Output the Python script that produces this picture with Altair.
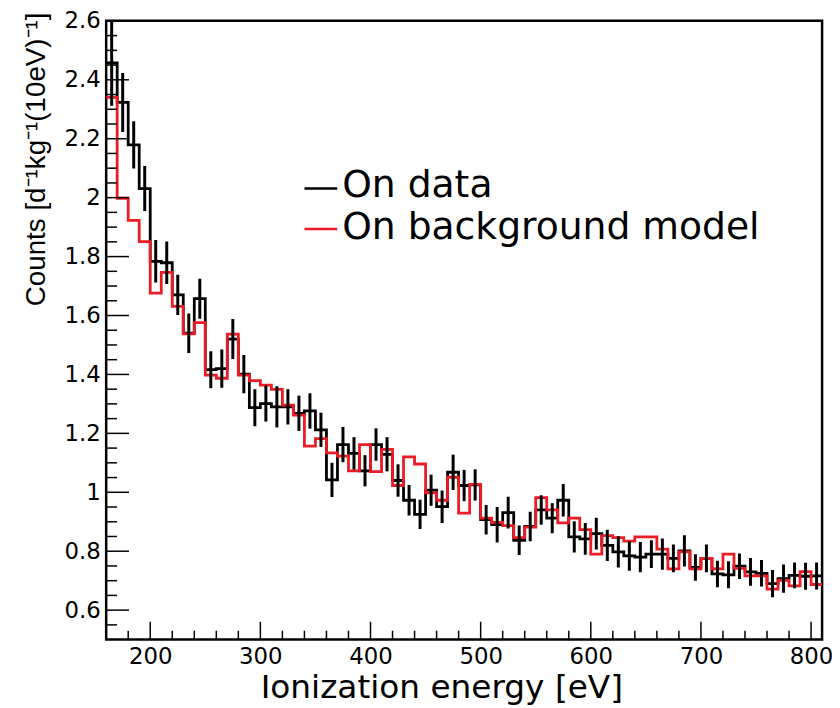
import altair as alt
import pandas as pd

# ---- data (10 eV bins, low edge) ----
energy_lo = [160, 170, 180, 190, 200, 210, 220, 230, 240, 250,
             260, 270, 280, 290, 300, 310, 320, 330, 340, 350,
             360, 370, 380, 390, 400, 410, 420, 430, 440, 450,
             460, 470, 480, 490, 500, 510, 520, 530, 540, 550,
             560, 570, 580, 590, 600, 610, 620, 630, 640, 650,
             660, 670, 680, 690, 700, 710, 720, 730, 740, 750,
             760, 770, 780, 790, 800]
energy_hi_last = 810

data_counts = [2.457, 2.323, 2.179, 2.031, 1.784, 1.779, 1.670, 1.540, 1.657, 1.416,
               1.420, 1.520, 1.401, 1.287, 1.301, 1.290, 1.290, 1.268, 1.276, 1.212,
               1.042, 1.162, 1.132, 1.073, 1.162, 1.129, 1.040, 0.973, 0.925, 1.007,
               0.951, 1.068, 1.023, 1.025, 0.907, 0.890, 0.931, 0.837, 0.884, 0.940,
               0.912, 0.973, 0.849, 0.842, 0.860, 0.820, 0.798, 0.784, 0.780, 0.790,
               0.790, 0.776, 0.801, 0.745, 0.776, 0.723, 0.720, 0.749, 0.730, 0.725,
               0.690, 0.707, 0.718, 0.715, 0.716]

data_errors = [0.145, 0.100, 0.080, 0.076, 0.072, 0.072, 0.068, 0.067, 0.068, 0.063,
               0.065, 0.068, 0.065, 0.063, 0.061, 0.070, 0.060, 0.060, 0.060, 0.058,
               0.058, 0.060, 0.055, 0.053, 0.055, 0.058, 0.055, 0.052, 0.050, 0.053,
               0.055, 0.060, 0.053, 0.053, 0.050, 0.060, 0.054, 0.050, 0.050, 0.050,
               0.051, 0.055, 0.053, 0.054, 0.054, 0.053, 0.053, 0.050, 0.051, 0.047,
               0.053, 0.047, 0.053, 0.045, 0.047, 0.045, 0.046, 0.043, 0.047, 0.045,
               0.046, 0.048, 0.044, 0.046, 0.046]

model_counts = [2.340, 1.998, 1.923, 1.851, 1.676, 1.746, 1.631, 1.538, 1.576, 1.398,
                1.387, 1.537, 1.398, 1.379, 1.364, 1.349, 1.296, 1.262, 1.157, 1.182,
                1.134, 1.123, 1.073, 1.162, 1.070, 1.146, 1.023, 1.120, 1.096, 0.998,
                0.973, 1.051, 0.929, 1.027, 0.912, 0.898, 0.887, 0.846, 0.882, 0.982,
                0.940, 0.896, 0.912, 0.873, 0.790, 0.853, 0.846, 0.834, 0.849, 0.849,
                0.807, 0.740, 0.798, 0.740, 0.776, 0.740, 0.790, 0.742, 0.716, 0.716,
                0.671, 0.701, 0.682, 0.731, 0.687]

x_major_ticks = [200, 300, 400, 500, 600, 700, 800]
x_minor_ticks = [180, 220, 240, 260, 280, 320, 340, 360, 380, 420, 440, 460, 480,
                 520, 540, 560, 580, 620, 640, 660, 680, 720, 740, 760, 780]
y_major_ticks = [0.6, 0.8, 1.0, 1.2, 1.4, 1.6, 1.8, 2.0, 2.2, 2.4, 2.6]
y_minor_ticks = [0.55, 0.65, 0.7, 0.75, 0.85, 0.9, 0.95, 1.05, 1.1, 1.15, 1.25, 1.3,
                 1.35, 1.45, 1.5, 1.55, 1.65, 1.7, 1.75, 1.85, 1.9, 1.95, 2.05, 2.1,
                 2.15, 2.25, 2.3, 2.35, 2.45, 2.5, 2.55]

legend_labels = ["On data", "On background model"]
RED = "#ec1c24"

# ---- tables built from the arrays ----
hist = pd.DataFrame({"e": energy_lo + [energy_hi_last],
                     "data": data_counts + [data_counts[-1]],
                     "model": model_counts + [model_counts[-1]]})
errs = pd.DataFrame({"c": [e + 5 for e in energy_lo],
                     "lo": [d - s for d, s in zip(data_counts, data_errors)],
                     "hi": [d + s for d, s in zip(data_counts, data_errors)]})

W, H = 722, 624
xs = alt.Scale(domain=[160, 810], nice=False, zero=False)
ys = alt.Scale(domain=[0.5, 2.6], nice=False, zero=False)
FONT = "DejaVu Sans"

x_axis = alt.Axis(values=x_major_ticks, format="d", ticks=False, domain=False, grid=False,
                  labelFont=FONT, labelFontSize=23, labelColor="black", labelPadding=6,
                  title="Ionization energy [eV]", titleFont=FONT, titleFontSize=33,
                  titleFontWeight="normal", titleColor="black",
                  titleX=338, titleY=48, titleAlign="center", titleBaseline="middle")
y_axis = alt.Axis(values=y_major_ticks, ticks=False, domain=False, grid=False,
                  labelFont=FONT, labelFontSize=23, labelColor="black", labelPadding=6,
                  labelExpr="format(datum.value, '.1~f')",
                  title="Counts [d⁻¹kg⁻¹(10eV)⁻¹]",
                  titleFont="Liberation Sans", titleFontSize=28,
                  titleFontWeight="normal", titleColor="black",
                  titleAngle=270, titleAlign="right", titleBaseline="middle",
                  titleX=-70, titleY=-9)

X = lambda f: alt.X(f, scale=xs, axis=x_axis)
Y = lambda f: alt.Y(f, scale=ys, axis=y_axis)

data_line = alt.Chart(hist).mark_line(interpolate="step-after", color="black",
                                      strokeWidth=2.8, clip=True).encode(
    x=X("e:Q"), y=Y("data:Q"))
model_line = alt.Chart(hist).mark_line(interpolate="step-after", color=RED,
                                       strokeWidth=2.8, clip=True).encode(
    x=X("e:Q"), y=Y("model:Q"))
err_bars = alt.Chart(errs).mark_rule(color="black", strokeWidth=3, clip=True).encode(
    x=X("c:Q"), y=Y("lo:Q"), y2="hi:Q")

ymaj = alt.Chart(pd.DataFrame({"v": y_major_ticks})).mark_rule(color="black", strokeWidth=1.5).encode(
    y=Y("v:Q"), x=alt.value(0), x2=alt.value(23))
ymin = alt.Chart(pd.DataFrame({"v": y_minor_ticks})).mark_rule(color="black", strokeWidth=1.5).encode(
    y=Y("v:Q"), x=alt.value(0), x2=alt.value(11))
xmaj = alt.Chart(pd.DataFrame({"v": x_major_ticks})).mark_rule(color="black", strokeWidth=1.5).encode(
    x=X("v:Q"), y=alt.value(H), y2=alt.value(H - 18))
xmin = alt.Chart(pd.DataFrame({"v": x_minor_ticks})).mark_rule(color="black", strokeWidth=1.5).encode(
    x=X("v:Q"), y=alt.value(H), y2=alt.value(H - 9))

one = pd.DataFrame({"a": [0]})
leg_line1 = alt.Chart(one).mark_rule(color="black", strokeWidth=2.5).encode(
    x=alt.value(200), x2=alt.value(233), y=alt.value(169))
leg_line2 = alt.Chart(one).mark_rule(color=RED, strokeWidth=2.5).encode(
    x=alt.value(200), x2=alt.value(233), y=alt.value(210))
leg_txt1 = alt.Chart(one).mark_text(align="left", baseline="middle", font=FONT,
                                    fontSize=38, color="black").encode(
    x=alt.value(238), y=alt.value(167), text=alt.value(legend_labels[0]))
leg_txt2 = alt.Chart(one).mark_text(align="left", baseline="middle", font=FONT,
                                    fontSize=38, color="black").encode(
    x=alt.value(238), y=alt.value(209), text=alt.value(legend_labels[1]))

chart = alt.layer(
    data_line, model_line, err_bars, ymaj, ymin, xmaj, xmin,
    leg_line1, leg_line2, leg_txt1, leg_txt2
).properties(
    width=W, height=H,
    autosize=alt.AutoSizeParams(type="none"),
    padding={"left": 99, "top": 10, "right": 10, "bottom": 66},
    background="white",
).configure_view(
    stroke="black", strokeWidth=2.5
)

chart.save("out.html", embed_options={"renderer": "svg", "actions": False})
